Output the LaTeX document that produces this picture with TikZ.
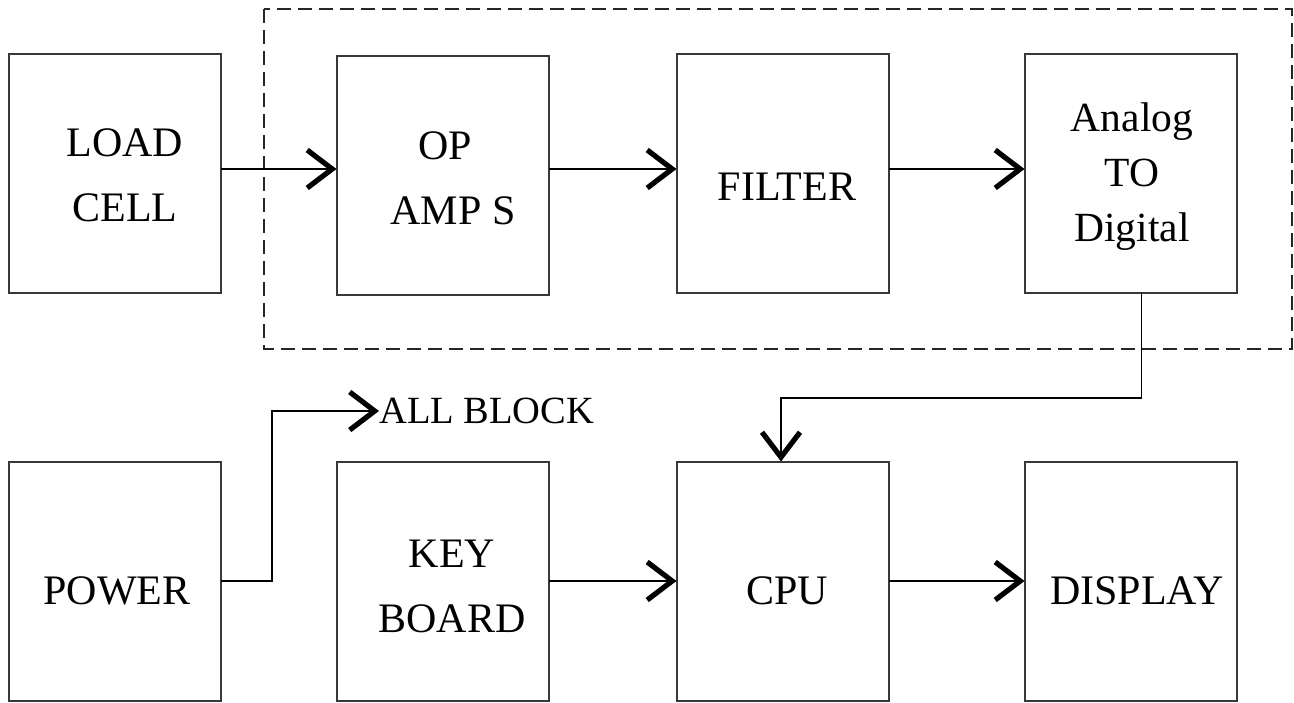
\documentclass[tikz,border=0pt]{standalone}
\usepackage{fontspec}
\setmainfont{Liberation Serif}
\usetikzlibrary{arrows.meta,calc}
\begin{document}
\begin{tikzpicture}[x=1pt,y=-1pt,
  block/.style={draw=black!78,line width=2pt,rectangle,inner sep=0pt,outer sep=0pt,
                minimum width=212pt,minimum height=239pt},
  lbl/.style={font=\fontsize{42}{65}\selectfont,align=center,inner sep=0pt},
  lbltri/.style={font=\fontsize{41.5}{55}\selectfont,align=center,inner sep=0pt},
  note/.style={font=\fontsize{38.5}{46}\selectfont,inner sep=0pt},
  wire/.style={draw=black,line width=1.7pt},
  flow/.style={wire,-{Straight Barb[length=25pt,width=38pt,line width=5.2pt]}},
  group/.style={draw=black!85,line width=1.8pt,dash pattern=on 14pt off 7pt}]
\useasboundingbox (0,0) rectangle (1294,702);

% signal-conditioning group
\draw[group] (264,9) rectangle (1292,349);

% top row of blocks
\node[block] (load)   at (115,173) {};
\node[block] (opamp)  at (442.5,175) {};
\node[block] (filter) at (782.5,173.5) {};
\node[block] (adc)    at (1130.5,173.5) {};

% bottom row of blocks
\node[block] (power)   at (115,581) {};
\node[block] (keyb)    at (442.5,581) {};
\node[block] (cpu)     at (782.5,581) {};
\node[block] (display) at (1130.5,581) {};

% block labels
\node[lbl]    (loadt)    at (125,175)  {LOAD\\CELL};
\node[lbl]    (opampt)   at (453,178)  {OP\hspace*{16pt}\\AMP S};
\node[lbl]    (filtert)  at (787,187)  {FILTER};
\node[lbltri] (adct)     at (1132,177) {Analog\\TO\\Digital};
\node[lbl]    (powert)   at (117,591)  {POWER};
\node[lbl]    (keybt)    at (452,586)  {KEY\\BOARD};
\node[lbl]    (cput)     at (787,591)  {CPU};
\node[lbl]    (displayt) at (1137,591) {DISPLAY};
\node[note,anchor=west] (allb) at (379,411) {ALL BLOCK};

% signal path
\draw[flow] ([yshift=4pt]load.east)   -- ([yshift=4pt]load.east -| opamp.west);
\draw[flow] ([yshift=6pt]opamp.east)  -- ([yshift=6pt]opamp.east -| filter.west);
\draw[flow] ([yshift=4.5pt]filter.east) -- ([yshift=4.5pt]filter.east -| adc.west);

% converter output to the processor
\coordinate (adcout) at ([xshift=11pt]adc.south);
\coordinate (cpuin)  at ([xshift=-1.5pt]cpu.north);
\draw[flow] (adcout) -- (adcout |- 0,398) -- (cpuin |- 0,398) -- (cpuin);

% bottom row
\draw[flow] (keyb.east) -- (keyb.east -| cpu.west);
\draw[flow] (cpu.east) -- (cpu.east -| display.west);

% supply to every block
\draw[flow] (power.east) -- ++(51,0) -- (272,0 |- allb.west) -- (allb.west);
\end{tikzpicture}
\end{document}
